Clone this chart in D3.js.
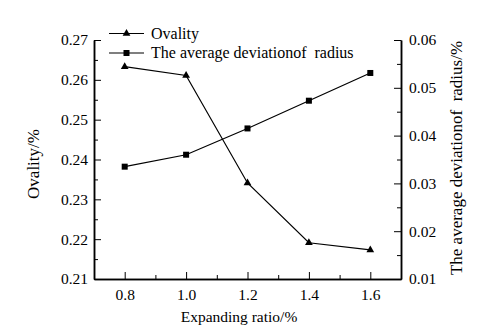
<!DOCTYPE html>
<html>
<head>
<meta charset="utf-8">
<script src="https://cdn.jsdelivr.net/npm/d3@7"></script>
<style>
  body { margin: 0; background: #fff; }
  text { font-family: "Liberation Serif", "Times New Roman", serif; fill: #000; }
</style>
</head>
<body>
<svg id="chart" width="488" height="336"></svg>
<script>
// data
const ratios = [0.8, 1.0, 1.2, 1.4, 1.6];
const ovality = [0.2633, 0.2611, 0.2341, 0.2191, 0.2173];
const deviation = [0.0335, 0.0360, 0.0415, 0.0473, 0.0531];
const xTicks = [0.8, 1.0, 1.2, 1.4, 1.6];
const leftTicks = [0.21, 0.22, 0.23, 0.24, 0.25, 0.26, 0.27];
const rightTicks = [0.01, 0.02, 0.03, 0.04, 0.05, 0.06];

const margin = { left: 94, right: 87, top: 40, bottom: 57 };
const width = 488, height = 336;

const svg = d3.select("#chart");

const x = d3.scaleLinear().domain([0.7, 1.7])
  .range([margin.left, width - margin.right]);
const yL = d3.scaleLinear().domain([0.21, 0.27])
  .range([height - margin.bottom, margin.top]);
const yR = d3.scaleLinear().domain([0.01, 0.06])
  .range([height - margin.bottom, margin.top]);

// minor ticks (no labels)
function minor(axis, vals) {
  return axis.tickValues(vals).tickFormat("").tickSize(-4).tickSizeOuter(0);
}

// bottom axis
const xg = svg.append("g").attr("transform", `translate(0,${height - margin.bottom})`);
xg.call(d3.axisBottom(x).tickValues(xTicks).tickFormat(d3.format(".1f"))
  .tickSize(-7).tickSizeOuter(0).tickPadding(10));
const xm = svg.append("g").attr("transform", `translate(0,${height - margin.bottom})`);
xm.call(minor(d3.axisBottom(x), [0.9, 1.1, 1.3, 1.5]));

// left axis
const lg = svg.append("g").attr("transform", `translate(${margin.left},0)`);
lg.call(d3.axisLeft(yL).tickValues(leftTicks).tickFormat(d3.format(".2f"))
  .tickSize(-7).tickSizeOuter(0).tickPadding(6));
const lm = svg.append("g").attr("transform", `translate(${margin.left},0)`);
lm.call(minor(d3.axisLeft(yL), [0.215, 0.225, 0.235, 0.245, 0.255, 0.265]));

// right axis
const rg = svg.append("g").attr("transform", `translate(${width - margin.right},0)`);
rg.call(d3.axisRight(yR).tickValues(rightTicks).tickFormat(d3.format(".2f"))
  .tickSize(-7).tickSizeOuter(0).tickPadding(8));
const rm = svg.append("g").attr("transform", `translate(${width - margin.right},0)`);
rm.call(minor(d3.axisRight(yR), [0.015, 0.025, 0.035, 0.045, 0.055]));

svg.selectAll(".domain").attr("stroke", "#000").attr("stroke-width", 1.5);
svg.selectAll(".tick line").attr("stroke", "#000");
svg.selectAll(".tick text").style("font-size", "15.5px")
  .style("font-family", "'Liberation Serif', serif");

// ovality line
svg.append("path").datum(ratios.map((r, i) => [r, ovality[i]]))
  .attr("fill", "none").attr("stroke", "#000").attr("stroke-width", 1.2)
  .attr("d", d3.line().x(d => x(d[0])).y(d => yL(d[1])));
svg.selectAll("path.tri").data(ratios.map((r, i) => [r, ovality[i]]))
  .enter().append("path").attr("class", "tri")
  .attr("transform", d => `translate(${x(d[0])},${yL(d[1])})`)
  .attr("d", d3.symbol(d3.symbolTriangle, 26));

// deviation line
svg.append("path").datum(ratios.map((r, i) => [r, deviation[i]]))
  .attr("fill", "none").attr("stroke", "#000").attr("stroke-width", 1.2)
  .attr("d", d3.line().x(d => x(d[0])).y(d => yR(d[1])));
svg.selectAll("rect.sq").data(ratios.map((r, i) => [r, deviation[i]]))
  .enter().append("rect").attr("class", "sq")
  .attr("x", d => x(d[0]) - 3).attr("y", d => yR(d[1]) - 3)
  .attr("width", 6).attr("height", 6);

// legend
const legend = [
  { label: "Ovality", sym: "tri" },
  { label: "The average deviationof  radius", sym: "sq" }
];
legend.forEach((l, i) => {
  const ly = 33.5 + i * 19.5;
  svg.append("line").attr("x1", 109).attr("x2", 144).attr("y1", ly).attr("y2", ly)
    .attr("stroke", "#000").attr("stroke-width", 1.2);
  if (l.sym == "tri") {
    svg.append("path").attr("transform", `translate(126.5,${ly})`)
      .attr("d", d3.symbol(d3.symbolTriangle, 26));
  } else {
    svg.append("rect").attr("x", 123.5).attr("y", ly - 3).attr("width", 6).attr("height", 6);
  }
  svg.append("text").attr("x", 151).attr("y", ly + 5)
    .attr("font-size", 16).style("white-space", "pre").text(l.label);
});

// axis titles
svg.append("text").attr("transform", "translate(39,164) rotate(-90)")
  .attr("text-anchor", "middle").attr("font-size", 17).text("Ovality/%");
svg.append("text").attr("transform", "translate(462,158) rotate(-90)")
  .attr("text-anchor", "middle").attr("font-size", 17).style("white-space", "pre")
  .text("The average deviationof  radius/%");
svg.append("text").attr("x", 239).attr("y", 322)
  .attr("text-anchor", "middle").attr("font-size", 15.5).text("Expanding ratio/%");
</script>
</body>
</html>
